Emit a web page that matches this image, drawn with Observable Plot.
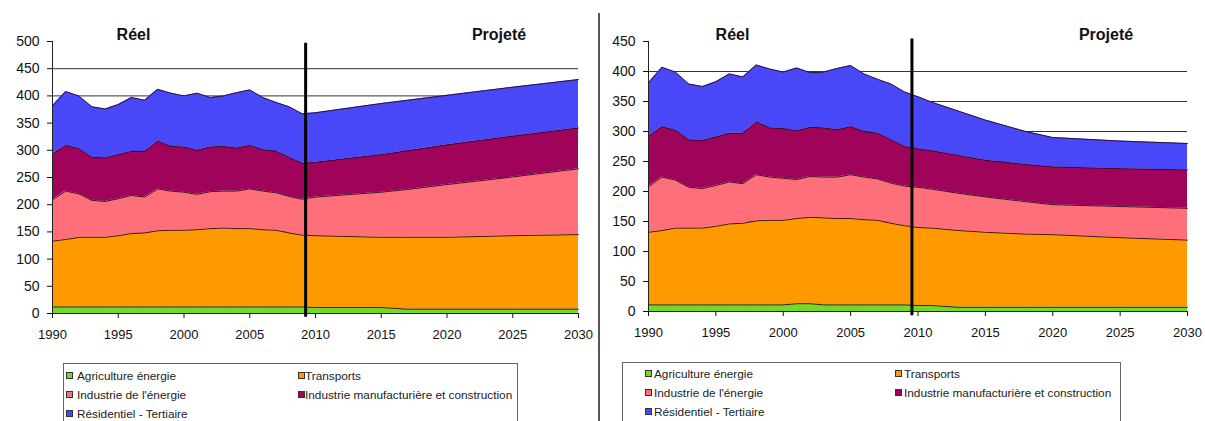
<!DOCTYPE html>
<html><head><meta charset="utf-8">
<script src="https://cdn.jsdelivr.net/npm/d3@7"></script>
<script src="https://cdn.jsdelivr.net/npm/@observablehq/plot@0.6"></script>
<style>
body{margin:0;background:#fff;width:1205px;height:421px;overflow:hidden;position:relative;font-family:"Liberation Sans",Arial,sans-serif}
.panel{position:absolute;top:0}
.lab{position:absolute;font-weight:bold;font-size:16px;line-height:18px;color:#111;transform:translateX(-50%);white-space:nowrap}
.legend{position:absolute;border:1px solid #666;height:90px;font-size:11.8px;color:#222;background:#fff}
.sw{position:absolute;width:5px;height:5px;border:1px solid #333}
.tx{position:absolute;white-space:nowrap;line-height:12px}
#divider{position:absolute;left:598px;top:13px;width:2px;height:408px;background:#555}
</style>
</head><body>
<div id="left" class="panel" style="left:0"></div>
<div id="right" class="panel" style="left:600px"></div>
<div id="divider"></div>
<script>
// ---- data ----
const series = ["Agriculture énergie", "Transports", "Industrie de l'énergie", "Industrie manufacturière et construction", "Résidentiel - Tertiaire"];
const colors = ["#74d826", "#ff9900", "#ff6f7a", "#a0045a", "#4848f8"];
const legendOrder = ["Agriculture énergie", "Transports", "Industrie de l'énergie", "Industrie manufacturière et construction", "Résidentiel - Tertiaire"];
const xTicks = [1990, 1995, 2000, 2005, 2010, 2015, 2020, 2025, 2030];

// historical (Réel)
const realYears = [1990,1991,1992,1993,1994,1995,1996,1997,1998,1999,2000,2001,2002,2003,2004,2005,2006,2007,2008,2009];
const realAgriLeft  = [12,12,12,12,12,12,12,12,12,12,12,12,12,12,12,12,12,12,12,12];
const realAgriRight = [11,11,11,11,11,11,11,11,11,11,11,13,13,11,11,11,11,11,11,11];
const realTransports = [121,124,128,128,128,131,135,136,140,141,141,142,144,145,144,144,142,141,136,132];
const realEnergie    = [76,89,80,68,66,68,70,66,77,72,70,65,68,68,69,73,71,69,67,66];
const realManuf      = [84,84,83,79,80,81,81,84,88,82,83,81,82,82,79,80,76,76,72,66];
const realResid      = [89,99,97,93,90,92,99,94,95,98,94,105,91,93,102,102,96,90,93,91];

// left panel projection (Projeté, rising)
const projLeftYears = [2010, 2015, 2017, 2020, 2025, 2030];
const projLeftAgri       = [11, 11, 8, 8, 8, 8];
const projLeftTransports = [132, 129, 132, 132, 135, 137];
const projLeftEnergie    = [71, 83, 88, 97, 108, 121];
const projLeftManuf      = [64, 69, 71, 73, 75, 75];
const projLeftResid      = [91, 94, 93, 91, 90, 89];

// right panel projection (Projeté, falling)
const projRightYears = [2010, 2011, 2013, 2015, 2018, 2020, 2025, 2030];
const projRightAgri       = [10, 10, 7, 7, 7, 7, 7, 7];
const projRightTransports = [130, 129, 128, 125, 122, 121, 116, 112];
const projRightEnergie    = [67, 65, 62, 59, 54, 50, 52, 53];
const projRightManuf      = [64, 64, 63, 61, 62, 63, 63, 64];
const projRightResid      = [87, 81, 74, 67, 55, 49, 46, 44];

const leftSeparator = 2009.25;
const rightSeparator = 2009.55;

function buildRows(years, cols) {
  const rows = [];
  years.forEach((yr, i) => series.forEach((s, k) => rows.push({year: yr, series: s, value: cols[k][i]})));
  return rows;
}

const leftRows = buildRows(realYears.concat(projLeftYears), [
  realAgriLeft.concat(projLeftAgri),
  realTransports.concat(projLeftTransports),
  realEnergie.concat(projLeftEnergie),
  realManuf.concat(projLeftManuf),
  realResid.concat(projLeftResid)
]);
const rightRows = buildRows(realYears.concat(projRightYears), [
  realAgriRight.concat(projRightAgri),
  realTransports.concat(projRightTransports),
  realEnergie.concat(projRightEnergie),
  realManuf.concat(projRightManuf),
  realResid.concat(projRightResid)
]);

function chart({rows, ymax, width, ml, mr, mb, sep, sepTop}) {
  const yTicks = d3.range(0, ymax + 1, 50);
  const grid = d3.range(50, ymax, 50);
  return Plot.plot({
    width, height: 345,
    marginLeft: ml, marginRight: mr, marginTop: 41, marginBottom: mb,
    x: {domain: [1990, 2030], label: null},
    y: {domain: [0, ymax], label: null},
    color: {domain: series, range: colors},
    style: {fontFamily: '"Liberation Sans", Arial, sans-serif', fontSize: "13px", color: "#111", background: "white", overflow: "visible"},
    marks: [
      Plot.ruleY(grid, {stroke: "#333", strokeWidth: 1}),
      Plot.areaY(rows, {x: "year", y: "value", fill: "series", z: "series", order: series, curve: "linear"}),
      Plot.lineY(rows, Plot.stackY2({x: "year", y: "value", z: "series", order: series, stroke: "#2a0a22", strokeWidth: 0.9, curve: "linear"})),
      Plot.ruleX([1990], {stroke: "#222", strokeWidth: 1}),
      Plot.ruleY([0], {stroke: "#222", strokeWidth: 1}),
      Plot.axisX({ticks: xTicks, tickFormat: d => String(d), tickSize: 5, tickPadding: 11, fontSize: 13, label: null}),
      Plot.axisY({ticks: yTicks, tickFormat: d => String(d), tickSize: 5, tickPadding: 8, fontSize: 14, label: null}),
      Plot.ruleX([sep], {y1: -7, y2: sepTop, stroke: "black", strokeWidth: 3})
    ]
  });
}

document.getElementById("left").appendChild(chart({rows: leftRows, ymax: 500, width: 600, ml: 52, mr: 22, mb: 32, sep: leftSeparator, sepTop: 497}));
document.getElementById("right").appendChild(chart({rows: rightRows, ymax: 450, width: 605, ml: 48, mr: 18, mb: 34, sep: rightSeparator, sepTop: 454}));

// titles
function label(text, x, y) {
  const d = document.createElement("div");
  d.className = "lab"; d.textContent = text;
  d.style.left = x + "px"; d.style.top = y + "px";
  document.body.appendChild(d);
}
label("Réel", 133.5, 25.5);
label("Projeté", 499, 25.5);
label("Réel", 732.5, 26);
label("Projeté", 1106, 26);

// legends
function legend(left, top, width, swX, txX, col2Sw, col2Tx, rowsY) {
  const box = document.createElement("div");
  box.className = "legend";
  box.style.left = left + "px"; box.style.top = top + "px"; box.style.width = width + "px";
  const pos = [[0,0],[1,0],[0,1],[1,1],[0,2]];
  legendOrder.forEach((s, i) => {
    const [c, r] = pos[i];
    const sw = document.createElement("div");
    sw.className = "sw";
    sw.style.background = colors[series.indexOf(s)];
    sw.style.left = (c ? col2Sw : swX) + "px";
    sw.style.top = (rowsY[r] + 2) + "px";
    box.appendChild(sw);
    const t = document.createElement("div");
    t.className = "tx"; t.textContent = s;
    t.style.left = (c ? col2Tx : txX) + "px";
    t.style.top = rowsY[r] + "px";
    box.appendChild(t);
  });
  document.body.appendChild(box);
}
legend(63, 363, 453, 2, 13, 234, 241, [6, 25, 44]);
legend(622, 362, 497, 22, 31, 272, 281, [5, 24, 43]);
</script>
</body></html>
